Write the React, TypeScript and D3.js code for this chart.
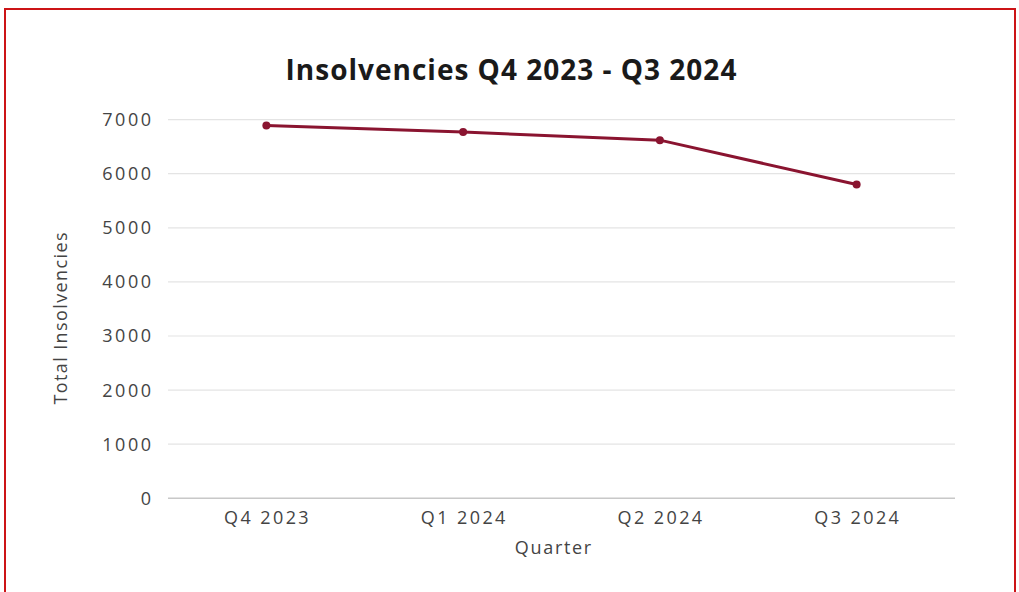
import React from "react";
import * as d3 from "d3";

const quarters = ["Q4 2023", "Q1 2024", "Q2 2024", "Q3 2024"];
const insolvencies = [6890, 6770, 6620, 5800];
const yTicks = [0, 1000, 2000, 3000, 4000, 5000, 6000, 7000];
const title = "Insolvencies Q4 2023 - Q3 2024";
const xTitle = "Quarter";
const yTitle = "Total Insolvencies";

const W = 1019;
const H = 592;
const m = { left: 168, right: 955, top: 119.6, bottom: 498.3 };

export default function App() {
  const x = d3.scalePoint<string>().domain(quarters).range([m.left, m.right]).padding(0.5);
  const y = d3.scaleLinear().domain([0, 7000]).range([m.bottom, m.top]);
  const line = d3
    .line<number>()
    .x((_, i) => x(quarters[i]) as number)
    .y((d) => y(d));
  const font = "'Open Sans', 'DejaVu Sans', sans-serif";
  return (
    <svg width={W} height={H} style={{ position: "absolute", left: 0, top: 0, background: "#fff" }}>
      <rect x={5} y={9} width={1010} height={600} fill="none" stroke="#cc1417" strokeWidth={2} />
      <text x={511} y={80} dx={0.5} textAnchor="middle" fontFamily={font} fontWeight={700} fontSize={28} letterSpacing={1} fill="#1a1a1a">
        {title}
      </text>
      {yTicks.map((t) => (
        <g key={t}>
          <line x1={m.left} x2={m.right} y1={y(t)} y2={y(t)} stroke={t === 0 ? "#c8c8c8" : "#e4e4e4"} strokeWidth={t === 0 ? 1.5 : 1.2} />
          <text x={151} y={y(t)} dx={2.5} dy="0.36em" textAnchor="end" fontFamily={font} fontSize={18} letterSpacing={2.5} fill="#444">
            {t}
          </text>
        </g>
      ))}
      {quarters.map((q) => (
        <text key={q} x={x(q)} y={524} dx={1.2} textAnchor="middle" fontFamily={font} fontSize={18} letterSpacing={2.4} fill="#444">
          {q}
        </text>
      ))}
      <text x={553} y={554} dx={0.85} textAnchor="middle" fontFamily={font} fontSize={18} letterSpacing={1.7} fill="#444">
        {xTitle}
      </text>
      <text
        transform={`translate(67, 318.5) rotate(-90)`}
        dx={0.7}
        textAnchor="middle"
        fontFamily={font}
        fontSize={18}
        letterSpacing={1.4}
        fill="#444"
      >
        {yTitle}
      </text>
      <path d={line(insolvencies) || ""} fill="none" stroke="#8a1430" strokeWidth={3} />
      {insolvencies.map((v, i) => (
        <circle key={i} cx={x(quarters[i])} cy={y(v)} r={4} fill="#8a1430" />
      ))}
    </svg>
  );
}
